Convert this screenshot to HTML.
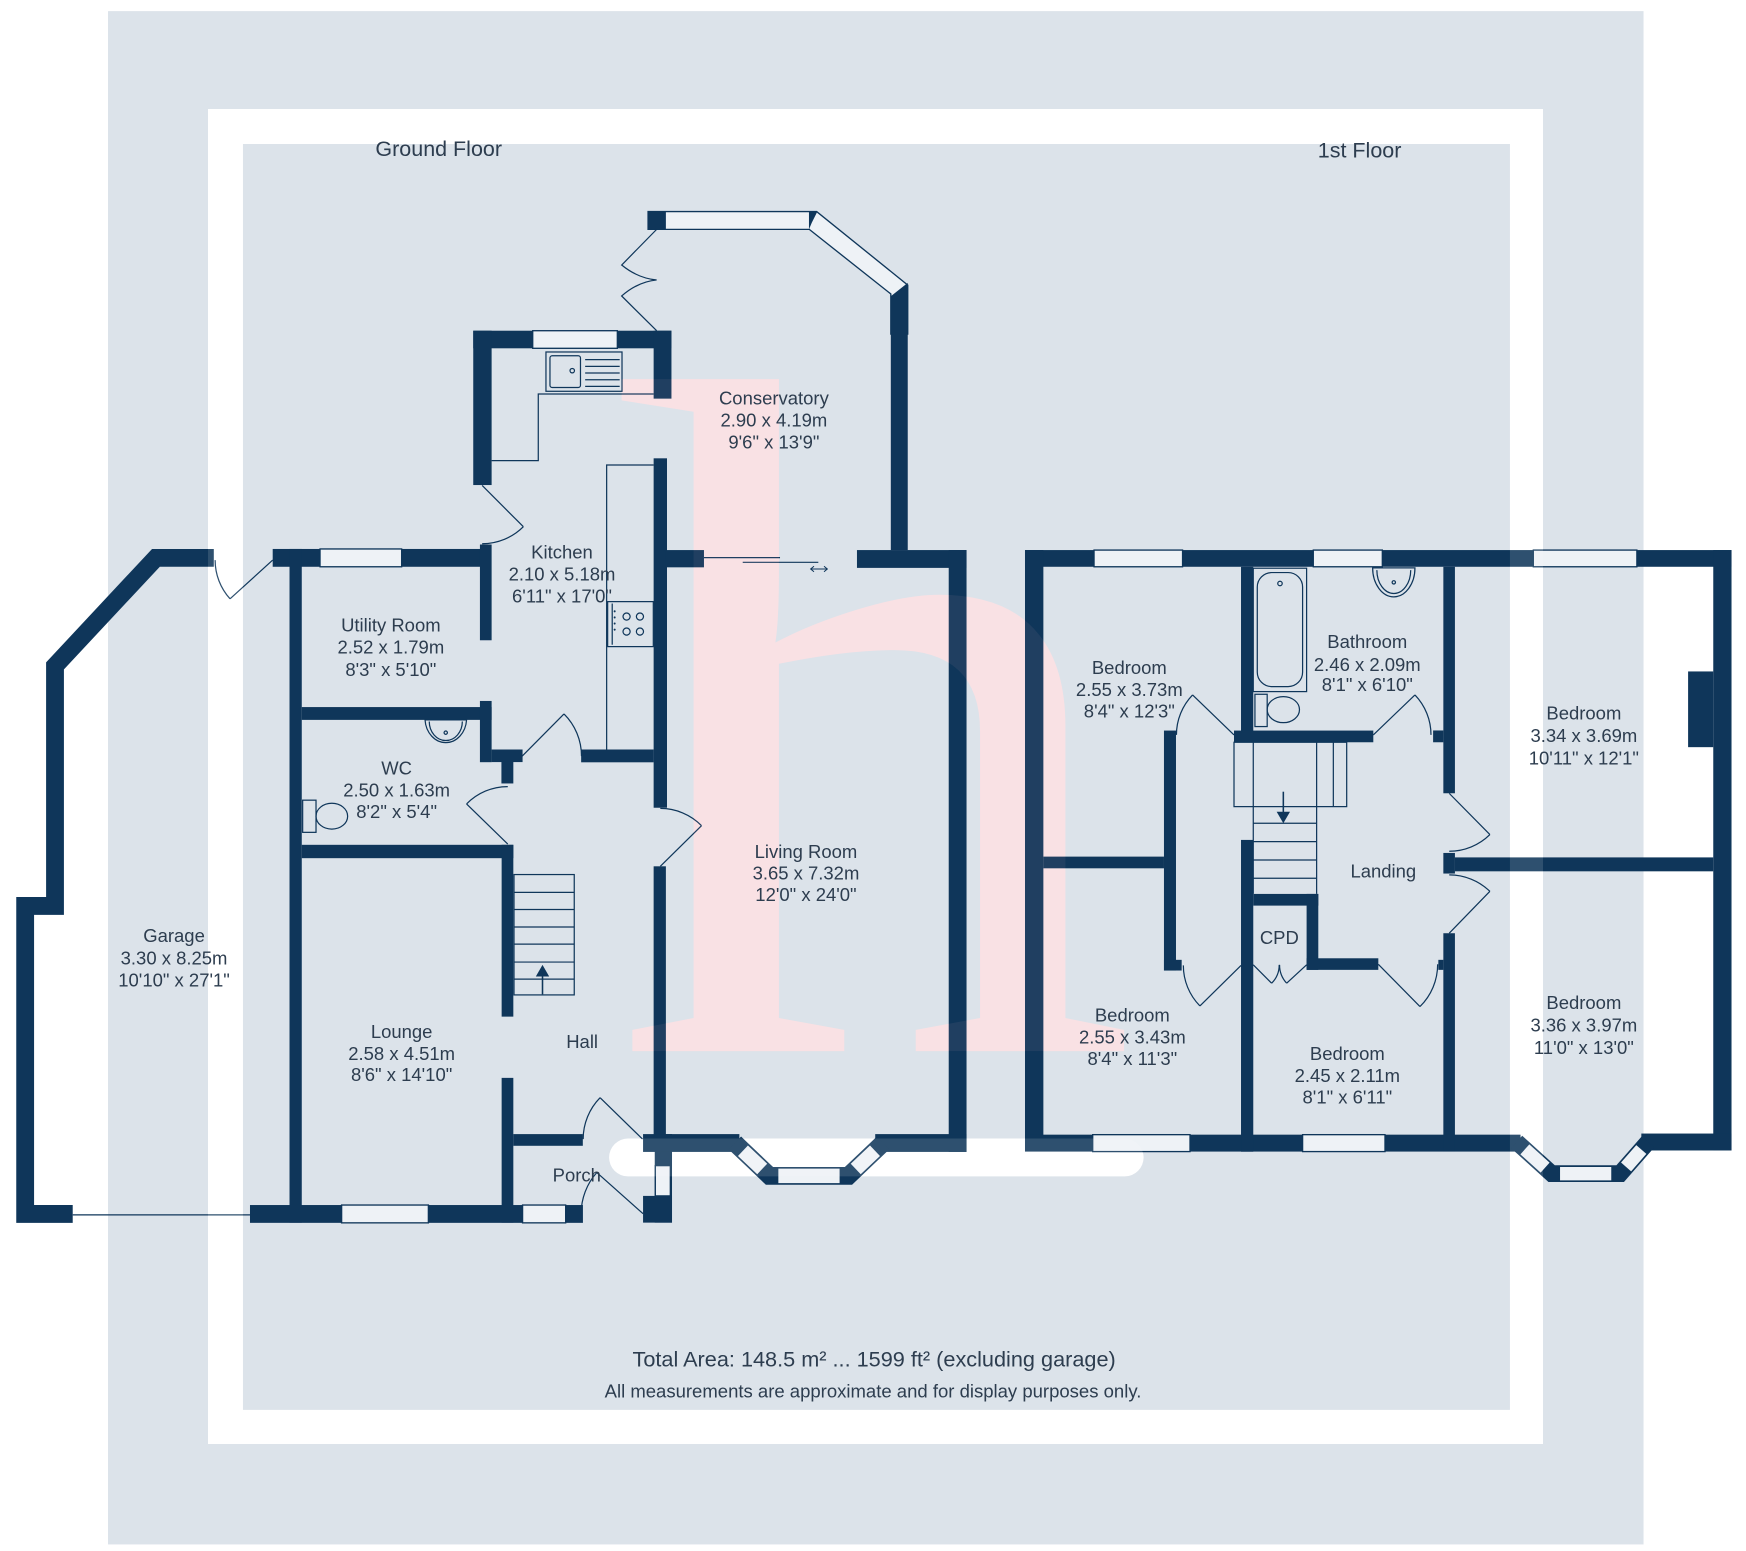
<!DOCTYPE html>
<html>
<head>
<meta charset="utf-8">
<style>
html,body{margin:0;padding:0;background:#ffffff;}
svg{display:block;}
.w{fill:#0f365a;}
.win{fill:#eef2f6;stroke:#0f365a;stroke-width:1.2;}
.l{fill:none;stroke:#0f365a;stroke-width:1.1;}
.t{font-family:"Liberation Sans",Arial,sans-serif;fill:#2d3d4f;font-size:16.6px;text-anchor:middle;}
.h{font-size:19.3px;}
</style>
</head>
<body>
<svg width="1746" height="1551" viewBox="0 0 1568 1392.9" preserveAspectRatio="none" xmlns="http://www.w3.org/2000/svg">
<!-- backgrounds -->
<rect x="0" y="0" width="1568" height="1393" fill="#ffffff"/>
<rect x="97" y="10" width="1379" height="1377" fill="#dce3ea"/>
<path d="M186.8,97.9 H1385.7 V1296.8 H186.8 Z M218.2,129.3 V1266.2 H1356 V129.3 Z" fill="#ffffff" fill-rule="evenodd"/>
<rect x="547" y="1022.5" width="480" height="34" rx="17" fill="#ffffff"/>
<!-- watermark -->
<text x="549" y="944" font-family="Liberation Serif, serif" font-size="884" fill="#fae5e8" transform="translate(549,944) scale(1.07,0.984) translate(-549,-944)">h</text>

<!-- ================= GROUND FLOOR ================= -->
<!-- Garage -->
<polyline points="192,501 140,501 49.4,598 49.4,813.6 22.6,813.6 22.6,1090.2 65.3,1090.2" fill="none" stroke="#0f365a" stroke-width="16" stroke-linejoin="miter"/>
<line x1="65.3" y1="1091" x2="224.5" y2="1091" class="l"/>
<line x1="244.9" y1="503" x2="206.6" y2="537.8" class="l"/>
<path d="M206.6,537.8 A51.7,51.7 0 0 1 193.2,503" class="l"/>

<!-- utility / wc / lounge -->
<rect class="w" x="244.9" y="493" width="188" height="16"/>
<rect class="win" x="287.4" y="493" width="73.3" height="16"/>
<rect class="w" x="431" y="489" width="10.5" height="86"/>
<rect class="w" x="260" y="493" width="11" height="605"/>
<rect class="w" x="271" y="635" width="170.5" height="11.5"/>
<rect class="w" x="431" y="629.5" width="10.5" height="55"/>
<rect class="w" x="441.5" y="673.1" width="27.8" height="11.3"/>
<rect class="w" x="450.3" y="684" width="10.7" height="19.6"/>
<rect class="w" x="271" y="758.7" width="190" height="12"/>
<rect class="w" x="450.5" y="758.7" width="10.5" height="154.3"/>
<rect class="w" x="450.5" y="968" width="10.5" height="130"/>
<rect class="w" x="224.5" y="1082.2" width="299" height="16"/>
<rect class="win" x="306.8" y="1082.2" width="77.9" height="16"/>
<rect class="win" x="469.3" y="1082.2" width="38.7" height="16"/>

<!-- WC fixtures -->
<path d="M381.7,646.5 A18.7,22 0 0 0 419,646.5 Z" class="l"/>
<path d="M385.5,648 A14.8,17 0 0 0 415.2,648" class="l"/>
<circle cx="400.3" cy="658" r="1.5" class="l"/>
<rect x="271.8" y="718.6" width="12" height="28.9" class="l"/>
<ellipse cx="298" cy="733" rx="14.2" ry="11.6" class="l"/>
<!-- WC door -->
<line x1="456" y1="758" x2="419" y2="722" class="l"/>
<path d="M419,722 A51.6,51.6 0 0 1 456,706.4" class="l"/>

<!-- Hall stairs -->
<rect x="461.6" y="785.4" width="54.1" height="108.1" class="l"/>
<line x1="461.6" y1="801.4" x2="515.7" y2="801.4" class="l"/>
<line x1="461.6" y1="816.8" x2="515.7" y2="816.8" class="l"/>
<line x1="461.6" y1="832.5" x2="515.7" y2="832.5" class="l"/>
<line x1="461.6" y1="847.9" x2="515.7" y2="847.9" class="l"/>
<line x1="461.6" y1="864" x2="515.7" y2="864" class="l"/>
<line x1="461.6" y1="879.3" x2="515.7" y2="879.3" class="l"/>
<line x1="487.2" y1="893" x2="487.2" y2="874" stroke="#0f365a" stroke-width="1.4"/>
<polygon points="481.2,877 493.2,877 487.2,866.5" class="w"/>

<!-- Hall to kitchen door -->
<line x1="469" y1="679" x2="506.5" y2="641.2" class="l"/>
<path d="M506.5,641.2 A53.2,53.2 0 0 1 522.2,679" class="l"/>

<!-- Porch -->
<rect class="w" x="461" y="1018.5" width="62.4" height="10.5"/>
<rect class="w" x="588" y="1018.5" width="15.5" height="79.5"/>
<rect class="win" x="588.5" y="1046.8" width="13.5" height="27.2"/>
<rect class="w" x="577.5" y="1074" width="26" height="24"/>
<line x1="577" y1="1023" x2="538.9" y2="985.8" class="l"/>
<path d="M538.9,985.8 A53.3,53.3 0 0 0 523.7,1023" class="l"/>
<line x1="577.5" y1="1090" x2="536" y2="1053" class="l"/>
<path d="M536,1053 A55.6,55.6 0 0 0 521.9,1090" class="l"/>

<!-- Kitchen -->
<rect class="w" x="425" y="297" width="178" height="15.8"/>
<rect class="win" x="478.4" y="297" width="76" height="15.8"/>
<rect class="w" x="425" y="297" width="16.5" height="138.6"/>
<rect class="w" x="587" y="297" width="16" height="61"/>
<rect class="w" x="587" y="411.6" width="12" height="313.8"/>
<rect class="w" x="587" y="778" width="11" height="250"/>
<rect class="w" x="521.9" y="673.1" width="65.1" height="11.5"/>
<!-- kitchen external door -->
<line x1="433" y1="436" x2="470" y2="473" class="l"/>
<path d="M470,473 A52.3,52.3 0 0 1 433,488.3" class="l"/>
<!-- sink -->
<rect x="490.3" y="316.1" width="68.3" height="35.3" class="l"/>
<rect x="493.9" y="319.5" width="27.4" height="28.5" rx="2" class="l"/>
<circle cx="513.9" cy="332.9" r="2" class="l"/>
<line x1="525.5" y1="323" x2="556.5" y2="323" class="l"/>
<line x1="525.5" y1="329" x2="556.5" y2="329" class="l"/>
<line x1="525.5" y1="335" x2="556.5" y2="335" class="l"/>
<line x1="525.5" y1="341" x2="556.5" y2="341" class="l"/>
<line x1="525.5" y1="347" x2="556.5" y2="347" class="l"/>
<!-- worktops -->
<polyline points="441.5,413.7 483.4,413.7 483.4,353.8 587,353.8" class="l"/>
<polyline points="587,417.6 544.8,417.6 544.8,673.1" class="l"/>
<!-- hob -->
<rect x="545.7" y="540.3" width="41" height="40.4" class="l" fill="#dce3ea"/>
<line x1="549.8" y1="542" x2="549.8" y2="579" class="l"/>
<circle cx="562.7" cy="553.7" r="3.2" class="l"/>
<circle cx="574.7" cy="553.7" r="3.2" class="l"/>
<circle cx="562.7" cy="567.2" r="3.2" class="l"/>
<circle cx="574.7" cy="567.2" r="3.2" class="l"/>
<circle cx="552" cy="549" r="0.9" class="w"/>
<circle cx="552" cy="554.5" r="0.9" class="w"/>
<circle cx="552" cy="560" r="0.9" class="w"/>
<circle cx="552" cy="565.5" r="0.9" class="w"/>

<!-- Conservatory -->
<polygon class="win" points="582,190 733.4,190 815.2,256 815.2,300 800,300 800,264 726.8,206 582,206"/>
<rect class="w" x="582" y="190" width="16" height="16"/>
<polygon class="w" points="726.5,190 734,190 729,200 726.5,206"/>
<polygon class="w" points="815.2,254 815.2,494 800,494 800,266"/>
<path d="M589.7,206 L558.3,238 Q573,250 589.7,251.4 Q573,253 558.3,265.8 L589.7,297" class="l"/>

<!-- Living room -->
<rect class="w" x="598" y="494" width="34.2" height="15.5"/>
<rect class="w" x="769.6" y="494" width="98.4" height="16"/>
<rect class="w" x="852" y="494" width="16" height="540.5"/>
<rect class="w" x="577.5" y="1018.5" width="86.5" height="16"/>
<rect class="w" x="786" y="1018.5" width="82" height="16"/>
<polyline points="660,1026.5 691,1056 762,1056 793,1026.5" fill="none" stroke="#0f365a" stroke-width="16" stroke-linejoin="miter"/>
<line x1="667.2" y1="1033.4" x2="684.5" y2="1049.8" stroke="#eef2f6" stroke-width="13"/>
<line x1="699" y1="1056" x2="754" y2="1056" stroke="#eef2f6" stroke-width="13"/>
<line x1="768.5" y1="1049.8" x2="785.8" y2="1033.4" stroke="#eef2f6" stroke-width="13"/>
<!-- living door -->
<line x1="593" y1="778" x2="630" y2="741.5" class="l"/>
<path d="M630,741.5 A52,52 0 0 0 593,726" class="l"/>
<!-- sliding door -->
<line x1="632.2" y1="500.8" x2="700.5" y2="500.8" class="l"/>
<line x1="667" y1="505" x2="734.9" y2="505" class="l"/>
<path d="M728,511 L743,511 M731,508.5 L728,511 L731,513.5 M740,508.5 L743,511 L740,513.5" fill="none" stroke="#0f365a" stroke-width="0.9"/>

<!-- ================= FIRST FLOOR ================= -->
<rect class="w" x="920.5" y="494" width="634.5" height="15"/>
<rect class="win" x="982.5" y="494" width="79.5" height="15"/>
<rect class="win" x="1179.4" y="494" width="62" height="15"/>
<rect class="win" x="1377" y="494" width="93" height="15"/>
<rect class="w" x="920.5" y="494" width="16.5" height="540"/>
<rect class="w" x="1538.6" y="494" width="16.4" height="539"/>
<rect class="w" x="920.5" y="1019" width="445" height="15.2"/>
<rect class="win" x="981.3" y="1019" width="87.4" height="15.2"/>
<rect class="win" x="1169.8" y="1019" width="74" height="15.2"/>
<rect class="w" x="1474" y="1018" width="81" height="15.2"/>
<polyline points="1362,1025.5 1393.5,1054 1455,1054 1480,1025.5" fill="none" stroke="#0f365a" stroke-width="15" stroke-linejoin="miter"/>
<line x1="1369.4" y1="1032.2" x2="1387.6" y2="1048.6" stroke="#eef2f6" stroke-width="12"/>
<line x1="1401" y1="1054" x2="1447" y2="1054" stroke="#eef2f6" stroke-width="12"/>
<line x1="1460.3" y1="1048" x2="1474" y2="1032.3" stroke="#eef2f6" stroke-width="12"/>
<rect class="w" x="1516" y="603" width="22.6" height="68"/>

<rect class="w" x="1114.5" y="509" width="11" height="157.6"/>
<rect class="w" x="1108.2" y="656.1" width="125.1" height="10.5"/>
<rect class="w" x="1296.2" y="509" width="10.4" height="203.4"/>
<rect class="w" x="1287" y="656" width="9.2" height="10.6"/>
<rect class="w" x="1296.2" y="766" width="10.4" height="18.5"/>
<rect class="w" x="1306.6" y="770" width="232" height="12.5"/>
<rect class="w" x="1296.2" y="838.1" width="10.4" height="196"/>
<rect class="w" x="1291.7" y="862" width="4.5" height="9"/>
<rect class="w" x="1045.3" y="656.1" width="10.8" height="215.5"/>
<rect class="w" x="1045.3" y="862" width="15.9" height="9.6"/>
<rect class="w" x="937" y="769.3" width="108.3" height="10.5"/>
<rect class="w" x="1114.5" y="754.3" width="11" height="280"/>
<rect class="w" x="1125.5" y="802.8" width="58.4" height="10.5"/>
<rect class="w" x="1173.4" y="802.8" width="10.5" height="68.2"/>
<rect class="w" x="1173.4" y="860.6" width="64.4" height="10.4"/>

<!-- first floor stairs -->
<rect x="1108.2" y="666.6" width="101.2" height="57.8" class="l"/>
<line x1="1125.5" y1="666.6" x2="1125.5" y2="802.8" class="l"/>
<line x1="1182.4" y1="666.6" x2="1182.4" y2="802.8" class="l"/>
<line x1="1197.4" y1="666.6" x2="1197.4" y2="724.4" class="l"/>
<line x1="1125.5" y1="739.3" x2="1182.4" y2="739.3" class="l"/>
<line x1="1125.5" y1="755.8" x2="1182.4" y2="755.8" class="l"/>
<line x1="1125.5" y1="772.3" x2="1182.4" y2="772.3" class="l"/>
<line x1="1125.5" y1="788.7" x2="1182.4" y2="788.7" class="l"/>
<line x1="1152.5" y1="711" x2="1152.5" y2="732" stroke="#0f365a" stroke-width="1.4"/>
<polygon points="1146.5,729 1158.5,729 1152.5,739.3" class="w"/>

<!-- bathroom fixtures -->
<rect x="1125.5" y="510.3" width="47.9" height="110.8" class="l"/>
<rect x="1129.1" y="514.2" width="40.7" height="102.4" rx="13" class="l"/>
<circle cx="1149.5" cy="524" r="2" class="l"/>
<path d="M1232.7,510 A19,26 0 0 0 1270.7,510 Z" class="l"/>
<path d="M1236.5,512 A15.2,21 0 0 0 1266.9,512" class="l"/>
<circle cx="1251.7" cy="523" r="1.5" class="l"/>
<rect x="1127" y="623.5" width="11" height="29" class="l"/>
<ellipse cx="1152.5" cy="637.3" rx="14.5" ry="11.7" class="l"/>

<!-- first floor doors -->
<line x1="1108.2" y1="660" x2="1071" y2="624.1" class="l"/>
<path d="M1071,624.1 A51.7,51.7 0 0 0 1056.5,660" class="l"/>
<line x1="1233.3" y1="660" x2="1270.7" y2="624.1" class="l"/>
<path d="M1270.7,624.1 A51.8,51.8 0 0 1 1285.1,660" class="l"/>
<line x1="1301.5" y1="712.5" x2="1338" y2="749.5" class="l"/>
<path d="M1338,749.5 A52,52 0 0 1 1301.5,764.5" class="l"/>
<line x1="1301.5" y1="838.1" x2="1338" y2="800.5" class="l"/>
<path d="M1338,800.5 A52.4,52.4 0 0 0 1301.5,785.7" class="l"/>
<line x1="1114.5" y1="867" x2="1077.6" y2="903.4" class="l"/>
<path d="M1077.6,903.4 A51.8,51.8 0 0 1 1062.7,867" class="l"/>
<line x1="1125.5" y1="866.5" x2="1142" y2="883" class="l"/>
<path d="M1142,883 A23.3,23.3 0 0 0 1148.8,866.5" class="l"/>
<line x1="1173.4" y1="866.5" x2="1155.5" y2="883" class="l"/>
<path d="M1155.5,883 A24.3,24.3 0 0 1 1149.1,866.5" class="l"/>
<line x1="1237.8" y1="866" x2="1275.2" y2="904" class="l"/>
<path d="M1275.2,904 A53.3,53.3 0 0 0 1291.1,866" class="l"/>

<!-- overlays -->
<path d="M186.8,97.9 H1385.7 V1296.8 H186.8 Z M218.2,129.3 V1266.2 H1356 V129.3 Z" fill="#ffffff" fill-opacity="0.13" fill-rule="evenodd"/>
<rect x="547" y="1022.5" width="480" height="34" rx="17" fill="#ffffff" fill-opacity="0.13"/>
<text x="549" y="944" font-family="Liberation Serif, serif" font-size="884" fill="#f4b8c2" fill-opacity="0.08" transform="translate(549,944) scale(1.07,0.984) translate(-549,-944)">h</text>

<!-- ================= TEXT ================= -->
<text class="t h" x="394" y="140">Ground Floor</text>
<text class="t h" x="1221" y="141.5">1st Floor</text>

<text class="t" x="695" y="363.5">Conservatory</text>
<text class="t" x="695" y="383.2">2.90 x 4.19m</text>
<text class="t" x="695" y="403">9'6" x 13'9"</text>

<text class="t" x="504.7" y="501.7">Kitchen</text>
<text class="t" x="504.7" y="521.5">2.10 x 5.18m</text>
<text class="t" x="504.7" y="541.2">6'11" x 17'0"</text>

<text class="t" x="351" y="567">Utility Room</text>
<text class="t" x="351" y="587">2.52 x 1.79m</text>
<text class="t" x="351" y="607">8'3" x 5'10"</text>

<text class="t" x="356.2" y="695.5">WC</text>
<text class="t" x="356.2" y="715.5">2.50 x 1.63m</text>
<text class="t" x="356.2" y="734.5">8'2" x 5'4"</text>

<text class="t" x="156.3" y="846">Garage</text>
<text class="t" x="156.3" y="866">3.30 x 8.25m</text>
<text class="t" x="156.3" y="886">10'10" x 27'1"</text>

<text class="t" x="360.7" y="932">Lounge</text>
<text class="t" x="360.7" y="952">2.58 x 4.51m</text>
<text class="t" x="360.7" y="971">8'6" x 14'10"</text>

<text class="t" x="522.8" y="941">Hall</text>
<text class="t" x="518" y="1061">Porch</text>

<text class="t" x="723.8" y="770.5">Living Room</text>
<text class="t" x="723.8" y="790">3.65 x 7.32m</text>
<text class="t" x="723.8" y="809">12'0" x 24'0"</text>

<text class="t" x="1014.2" y="605.3">Bedroom</text>
<text class="t" x="1014.2" y="625">2.55 x 3.73m</text>
<text class="t" x="1014.2" y="644.5">8'4" x 12'3"</text>

<text class="t" x="1227.9" y="582">Bathroom</text>
<text class="t" x="1227.9" y="602.5">2.46 x 2.09m</text>
<text class="t" x="1227.9" y="620.5">8'1" x 6'10"</text>

<text class="t" x="1422.4" y="646">Bedroom</text>
<text class="t" x="1422.4" y="666.5">3.34 x 3.69m</text>
<text class="t" x="1422.4" y="686.5">10'11" x 12'1"</text>

<text class="t" x="1242.3" y="788">Landing</text>
<text class="t" x="1148.9" y="847.7">CPD</text>

<text class="t" x="1016.9" y="917.5">Bedroom</text>
<text class="t" x="1016.9" y="937">2.55 x 3.43m</text>
<text class="t" x="1016.9" y="956.5">8'4" x 11'3"</text>

<text class="t" x="1210" y="952">Bedroom</text>
<text class="t" x="1210" y="971.5">2.45 x 2.11m</text>
<text class="t" x="1210" y="991">8'1" x 6'11"</text>

<text class="t" x="1422.4" y="906">Bedroom</text>
<text class="t" x="1422.4" y="926.5">3.36 x 3.97m</text>
<text class="t" x="1422.4" y="946.5">11'0" x 13'0"</text>

<text class="t h" x="785" y="1227" textLength="434" lengthAdjust="spacingAndGlyphs">Total Area: 148.5 m² ... 1599 ft² (excluding garage)</text>
<text class="t" x="784" y="1255" textLength="482" lengthAdjust="spacingAndGlyphs">All measurements are approximate and for display purposes only.</text>
</svg>
</body>
</html>
